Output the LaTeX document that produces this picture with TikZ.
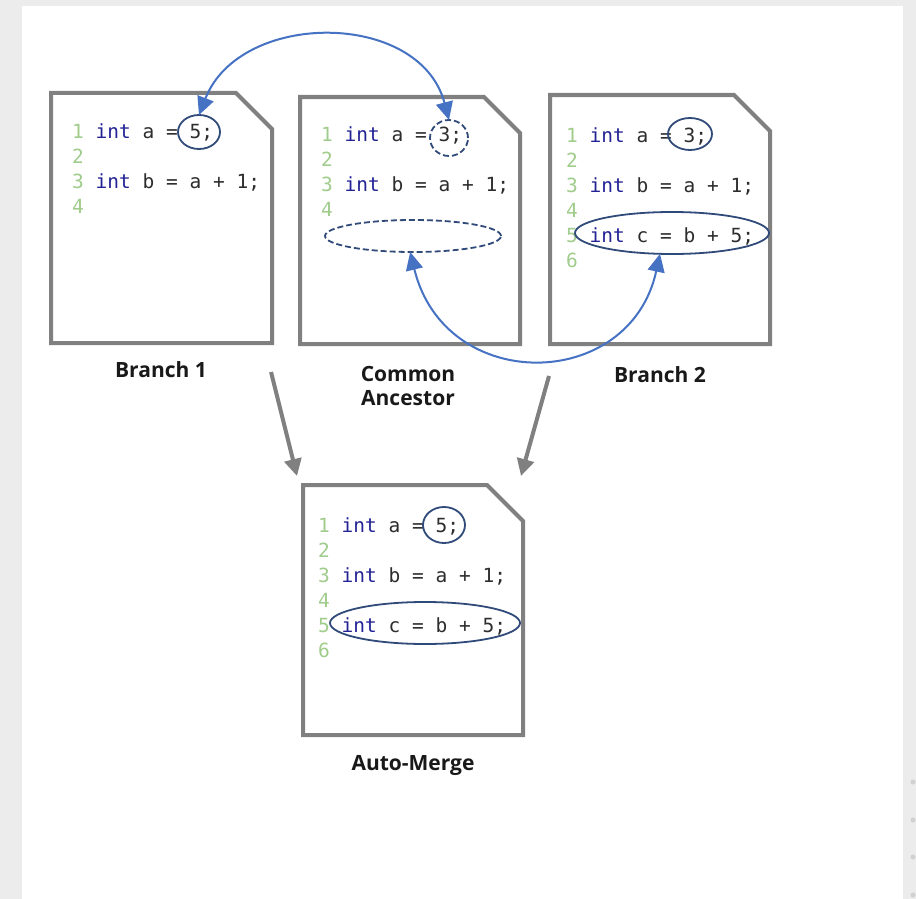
\documentclass[tikz,border=0pt]{standalone}
\usepackage{fontspec}
\setmainfont{Open Sans}
\setmonofont{DejaVu Sans Mono}
\usetikzlibrary{arrows.meta,shapes.geometric}
\definecolor{numgreen}{RGB}{160,204,140}
\definecolor{kwblue}{RGB}{35,35,150}
\definecolor{codegray}{RGB}{45,45,45}
\definecolor{ringblue}{RGB}{48,74,122}
\definecolor{swapblue}{RGB}{70,114,196}
\definecolor{sheetgray}{RGB}{128,128,128}
\definecolor{pagebg}{RGB}{236,236,236}
\def\kw#1{\textcolor{kwblue}{#1}}
\def\lno#1{\textcolor{numgreen}{#1}}
\newcommand{\docsheet}[4]{\draw[sheet] (#1,#2) -- ({#3-36},#2) -- (#3,{#2+36}) -- (#3,#4) -- (#1,#4) -- cycle;}

\begin{document}
\begin{tikzpicture}[x=1pt,y=-1pt,
  sheet/.style={draw=sheetgray,line width=4pt,fill=white,line join=miter},
  codeline/.style={anchor=base west,inner sep=0pt,font=\ttfamily\fontsize{19.5}{25}\selectfont,text=codegray},
  ring/.style={ellipse,draw=ringblue,line width=1.8pt,inner sep=0pt,outer sep=0pt},
  dashring/.style={ring,dash pattern=on 6pt off 3pt},
  swaparrow/.style={draw=swapblue,line width=2pt,{Triangle[length=18pt,width=17pt]}-{Triangle[length=18pt,width=17pt]}},
  mergearrow/.style={draw=sheetgray,line width=4pt,-{Triangle[length=17pt,width=17pt]}},
  lbl/.style={font=\bfseries\fontsize{21}{24}\selectfont,align=center,text=black!90}]
\fill[pagebg] (0,0) rectangle (916,899);
\fill[white] (22,6) rectangle (903,899);
\foreach \y in {782,820,857,895} \fill[black!18] (913,\y) circle (2.5);
\useasboundingbox (0,0) rectangle (916,899);

\docsheet{51}{93}{272}{343}
\docsheet{300}{97}{520}{344}
\docsheet{550}{95}{770}{344}
\docsheet{303}{485}{523}{735}

\foreach \n/\txt in {1/{\kw{int} a = 5;},2/{},3/{\kw{int} b = a + 1;},4/{}}
  \node[codeline] (b1l\n) at (72,{138+25*(\n-1)}) {\lno{\n} \txt};
\foreach \n/\txt in {1/{\kw{int} a = 3;},2/{},3/{\kw{int} b = a + 1;},4/{}}
  \node[codeline] (cal\n) at (321,{141+25*(\n-1)}) {\lno{\n} \txt};
\foreach \n/\txt in {1/{\kw{int} a = 3;},2/{},3/{\kw{int} b = a + 1;},4/{},5/{\kw{int} c = b + 5;},6/{}}
  \node[codeline] (b2l\n) at (566,{142+25*(\n-1)}) {\lno{\n} \txt};
\foreach \n/\txt in {1/{\kw{int} a = 5;},2/{},3/{\kw{int} b = a + 1;},4/{},5/{\kw{int} c = b + 5;},6/{}}
  \node[codeline] (aml\n) at (318,{532+25*(\n-1)}) {\lno{\n} \txt};

\node[ring,minimum width=42pt,minimum height=34pt] (b1v) at (199,132) {};
\node[dashring,minimum width=38pt,minimum height=36pt] (ca1) at (449,138) {};
\node[dashring,minimum width=176pt,minimum height=32pt] (ca2) at (413,236) {};
\node[ring,minimum width=44pt,minimum height=32pt] (b2v) at (690,134) {};
\node[ring,minimum width=194pt,minimum height=42pt] (b2e) at (672,233) {};
\node[ring,minimum width=42pt,minimum height=36pt] (am1) at (444,525) {};
\node[ring,minimum width=190pt,minimum height=42pt] (am2) at (425,623) {};

\draw[swaparrow] (b1v.north) .. controls (240,10) and (420,10) .. (ca1.north);
\draw[swaparrow] (ca2.260) .. controls (445,395) and (630,392) .. (b2e.240);

\node[lbl] (lb1) at (161,370) {Branch 1};
\node[lbl] (lca) at (408,386) {Common\\Ancestor};
\node[lbl] (lb2) at (660,375) {Branch 2};
\node[lbl] (lam) at (413,765) {Auto-Merge};

\coordinate (m1s) at (271,372);
\coordinate (m1e) at (297,476);
\coordinate (m2s) at (549,376);
\coordinate (m2e) at (521,476);
\draw[mergearrow] (m1s) -- (m1e);
\draw[mergearrow] (m2s) -- (m2e);
\end{tikzpicture}
\end{document}
